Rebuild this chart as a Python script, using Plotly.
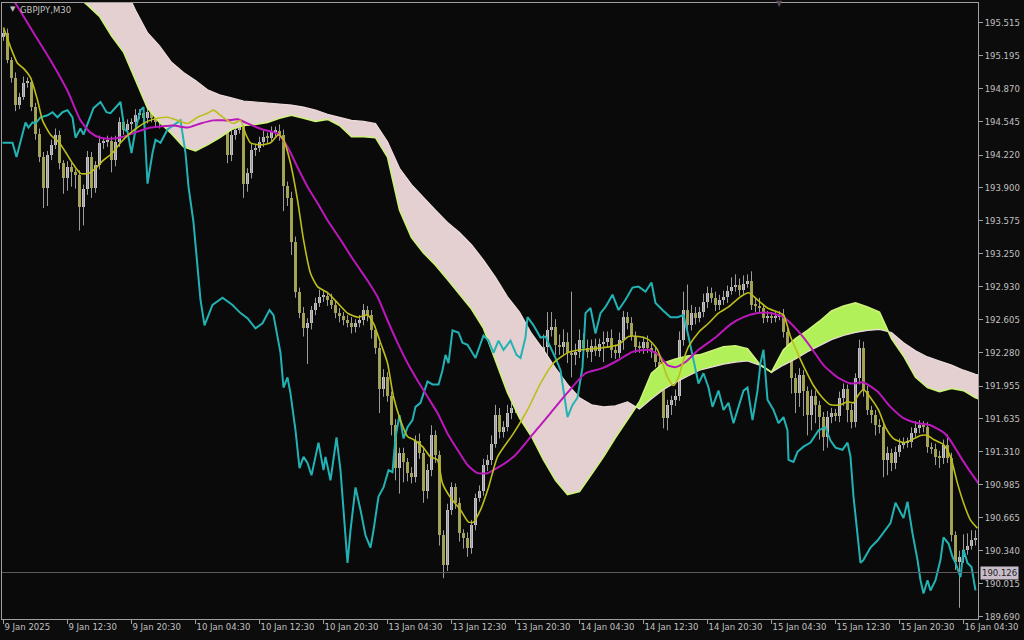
import numpy as np
import plotly.graph_objects as go

# ---------------- DATA ----------------
first_open = 195.38
close = [
    195.42, 195.15, 194.98, 194.71, 194.79, 194.93, 194.94, 194.69, 194.43, 194.20,
    193.90, 194.22, 194.32, 194.42, 194.14, 193.99, 194.10, 194.05, 194.02, 193.71,
    193.89, 194.20, 193.90, 194.12, 194.34, 194.35, 194.36, 194.17, 194.35, 194.54,
    194.47, 194.52, 194.54, 194.61, 194.63, 194.58, 194.64, 194.58, 194.54, 194.61,
    194.66, 194.58, 194.51, 194.56, 194.62, 194.68, 194.64, 194.70, 194.66, 194.72,
    194.68, 194.64, 194.58, 194.54, 194.50, 194.47, 194.22, 194.42, 194.47, 194.50,
    193.94, 194.04, 194.27, 194.29, 194.35, 194.40, 194.39, 194.45, 194.46, 194.42,
    193.92, 193.80, 193.37, 192.88, 192.67, 192.52, 192.57, 192.70, 192.77, 192.83,
    192.84, 192.80, 192.75, 192.67, 192.64, 192.60, 192.57, 192.53, 192.57, 192.60,
    192.70, 192.65, 192.50, 192.33, 191.93, 192.04, 191.86, 191.57, 191.15, 191.30,
    191.21, 191.10, 191.06, 191.42, 191.30, 190.93, 191.13, 191.47, 191.28, 190.49,
    190.20, 190.74, 190.96, 190.81, 190.51, 190.46, 190.37, 190.59, 190.86, 190.93,
    191.18, 191.23, 191.39, 191.67, 191.50, 191.55, 191.69, 191.74, 191.82, 191.89,
    191.96, 191.91, 192.03, 192.16, 192.23, 192.34, 192.50, 192.53, 192.36, 192.34,
    192.39, 192.28, 192.26, 192.29, 192.41, 192.33, 192.29, 192.35, 192.30, 192.37,
    192.39, 192.43, 192.31, 192.28, 192.41, 192.63, 192.57, 192.45, 192.34, 192.33,
    192.39, 192.33, 192.29, 192.19, 192.11, 191.64, 191.77, 191.82, 191.86, 192.41,
    192.70, 192.55, 192.67, 192.62, 192.68, 192.78, 192.87, 192.82, 192.75, 192.80,
    192.83, 192.89, 192.93, 192.95, 192.90, 192.96, 192.98, 192.75, 192.74, 192.72,
    192.62, 192.64, 192.63, 192.64, 192.65, 192.48, 192.33, 192.03, 191.89, 192.06,
    191.91, 191.67, 191.86, 191.77, 191.65, 191.45, 191.65, 191.69, 191.66, 191.84,
    191.93, 191.72, 191.60, 192.03, 192.33, 191.91, 191.72, 191.67, 191.57, 191.55,
    191.23, 191.30, 191.20, 191.31, 191.38, 191.40, 191.41, 191.49, 191.54, 191.57,
    191.55, 191.36, 191.34, 191.26, 191.25, 191.38, 191.25, 190.49, 190.23, 190.28,
    190.35, 190.39, 190.44, 190.46,
]
upper_wick_pips = [
    3, 4, 3, 5, 4, 6, 4, 3, 4, 5,   5, 4, 5, 6, 4, 3, 6, 4, 3, 5,
    4, 6, 5, 4, 7, 4, 5, 4, 6, 5,   4, 5, 4, 6, 4, 5, 6, 4, 5, 4,
    5, 4, 6, 4, 5, 6, 4, 5, 4, 5,   4, 5, 4, 6, 5, 4, 5, 6, 4, 5,
    4, 5, 6, 4, 5, 6, 4, 5, 4, 6,   5, 4, 6, 5, 4, 6, 5, 4, 5, 7,
    5, 4, 6, 4, 5, 4, 5, 6, 4, 5,   6, 4, 5, 4, 5, 8, 5, 4, 6, 5,
    5, 4, 6, 5, 7, 4, 6, 10, 5, 4,  5, 6, 5, 4, 5, 4, 6, 5, 4, 5,
    6, 5, 8, 10, 7, 6, 8, 5, 6, 5,  5, 6, 5, 6, 5, 12, 18, 15, 8, 10,
    12, 9, 60, 8, 10, 6, 8, 6, 7, 5, 10, 6, 8, 5, 7, 6, 5, 6, 4, 5,
    5, 6, 4, 5, 6, 5, 5, 4, 6, 8,   18, 25, 8, 6, 5, 8, 6, 5, 6, 5,
    6, 5, 9, 10, 6, 8, 7, 10, 6, 8, 4, 5, 4, 5, 4, 6, 5, 6, 5, 7,
    5, 4, 6, 5, 4, 5, 6, 5, 4, 6,   5, 4, 6, 5, 8, 6, 5, 4, 5, 6,
    5, 6, 4, 5, 6, 5, 4, 6, 7, 5,   4, 5, 4, 5, 6, 5, 10, 5, 4, 6,
    15, 12, 10, 8,
]
lower_wick_pips = [
    4, 3, 5, 6, 4, 3, 5, 4, 6, 5,   20, 18, 5, 4, 6, 15, 12, 14, 13, 23,
    18, 6, 10, 5, 4, 6, 5, 12, 6, 5, 5, 4, 6, 5, 4, 6, 5, 4, 5, 6,
    5, 4, 6, 5, 4, 5, 6, 4, 5, 4,   5, 6, 4, 5, 6, 5, 8, 6, 5, 4,
    14, 8, 5, 6, 4, 5, 6, 4, 5, 6,  25, 8, 13, 6, 5, 8, 35, 6, 5, 4,
    5, 6, 4, 5, 6, 5, 4, 6, 5, 4,   5, 6, 8, 6, 24, 8, 6, 10, 12, 25,
    20, 8, 6, 5, 6, 12, 8, 6, 8, 10, 13, 6, 5, 6, 8, 10, 9, 6, 5, 4,
    5, 6, 5, 4, 6, 5, 4, 6, 5, 6,   5, 6, 5, 6, 5, 6, 8, 6, 10, 8,
    8, 10, 22, 10, 6, 8, 6, 10, 5, 6, 18, 6, 8, 6, 5, 10, 6, 5, 6, 5,
    6, 5, 6, 5, 6, 10, 12, 10, 6, 5, 6, 8, 5, 6, 4, 5, 6, 5, 6, 5,
    5, 6, 4, 5, 6, 5, 4, 5, 6, 5,   5, 4, 6, 5, 4, 5, 6, 15, 20, 14,
    25, 20, 15, 18, 22, 13, 10, 6, 5, 6, 8, 12, 6, 5, 6, 6, 5, 8, 10, 6,
    17, 15, 8, 6, 5, 4, 5, 6, 4, 5, 5, 6, 5, 8, 10, 6, 5, 6, 8, 45,
    6, 5, 4, 5,
]

# fast moving average (olive-yellow)
fast_ma_bar = [0, 1.75, 3.5, 5, 6.75, 8.5, 9.75, 11.75, 13.75, 15.5,
               17.25, 19.25, 21.25, 23, 25, 27.25, 29.25, 31.25, 33.5, 36,
               38.5, 41, 43.5, 46, 48.5, 51, 52.5, 54.25, 56, 57.5,
               59.25, 60.5, 61.75, 64.25, 66.75, 68.75, 70, 71.75, 73.5, 75,
               76.75, 78.5, 81, 83.5, 86, 88.5, 91, 92.5, 94.25, 96,
               97.5, 99.25, 101, 102.5, 104.75, 106.75, 108.5, 109.75, 111.75, 114.25,
               116.25, 117.5, 119.25, 121.25, 123.5, 127.5, 131, 134.25, 137.5, 141,
               144.25, 149.75, 153.75, 156.25, 158.75, 161.25, 163.5, 164.75, 166, 167.5,
               168.75, 170, 171.25, 173.75, 176.25, 178.75, 181.25, 184.25, 186.25, 188.5,
               191, 193.5, 195, 196.75, 198.5, 200.5, 202.5, 204.75, 206.75, 209.25,
               211, 212.5, 213.75, 215, 216.75, 218.75, 220.5, 222.5, 225, 227.25,
               229.25, 231, 232.5, 235, 236.75, 238.5, 240, 241.75, 243.5]
fast_ma = [195.47, 195.28, 195.12, 195.07, 194.98, 194.76, 194.56, 194.42, 194.35, 194.25,
           194.14, 194.04, 194.04, 194.09, 194.17, 194.24, 194.34, 194.42, 194.49, 194.55,
           194.58, 194.59, 194.56, 194.53, 194.59, 194.63, 194.66, 194.61, 194.56, 194.53,
           194.56, 194.43, 194.34, 194.32, 194.34, 194.42, 194.37, 194.14, 193.78, 193.39,
           193.06, 192.93, 192.87, 192.77, 192.67, 192.63, 192.65, 192.57, 192.38, 192.18,
           191.85, 191.62, 191.46, 191.43, 191.36, 191.26, 191.23, 191.00, 190.86, 190.74,
           190.62, 190.62, 190.74, 190.96, 191.26, 191.49, 191.72, 191.98, 192.18, 192.28,
           192.31, 192.33, 192.36, 192.44, 192.44, 192.41, 192.31, 192.18, 192.04, 191.96,
           192.04, 192.21, 192.34, 192.48, 192.57, 192.67, 192.73, 192.83, 192.87, 192.80,
           192.72, 192.68, 192.65, 192.44, 192.28, 192.11, 191.96, 191.84, 191.77, 191.77,
           191.80, 191.79, 191.87, 191.92, 191.84, 191.72, 191.55, 191.44, 191.40, 191.43,
           191.47, 191.47, 191.43, 191.38, 191.26, 191.00, 190.81, 190.64, 190.56]

# slow moving average (magenta)
slow_ma_bar = [0, 2.5, 7.5, 11.75, 16, 19.25, 21.75, 24.25, 26.75, 30,
               33.5, 36.75, 39.25, 42.5, 46, 49.25, 52.5, 56, 58.5, 61,
               64.75, 68.5, 71, 73.5, 76, 78.5, 81, 84.25, 87.5, 91,
               93.5, 96, 98.5, 101, 103.5, 106, 108.5, 111, 113.5, 116,
               118.5, 121, 122.5, 127.5, 132.5, 136.75, 141, 145.5, 149.75, 153.75,
               157.25, 161.25, 163.75, 166, 168, 170.5, 173.75, 178, 181.75, 185,
               188.5, 191.75, 195, 198.5, 201.75, 205, 208.5, 211.75, 215, 218.5,
               221.75, 225, 228.5, 231.75, 235, 236.75, 239.25, 241.75, 243.75]
slow_ma = [195.90, 195.74, 195.42, 195.15, 194.85, 194.56, 194.44, 194.39, 194.38, 194.40,
           194.45, 194.49, 194.50, 194.51, 194.49, 194.53, 194.56, 194.56, 194.57, 194.53,
           194.47, 194.43, 194.30, 194.10, 193.91, 193.75, 193.58, 193.39, 193.19, 192.99,
           192.83, 192.60, 192.38, 192.18, 192.01, 191.85, 191.69, 191.49, 191.33, 191.18,
           191.10, 191.10, 191.13, 191.26, 191.49, 191.69, 191.89, 192.08, 192.13, 192.21,
           192.29, 192.31, 192.26, 192.16, 192.14, 192.19, 192.31, 192.43, 192.56, 192.63,
           192.67, 192.67, 192.63, 192.50, 192.34, 192.16, 192.04, 191.98, 191.99, 191.90,
           191.75, 191.64, 191.59, 191.57, 191.50, 191.42, 191.26, 191.11, 191.00]

# cyan line
cyan_bar = [-0.25, 2.25, 3.25, 4.75, 5.5, 6.25, 7.25, 8, 9.25, 11,
            12.25, 13.5, 14.75, 16, 17.25, 18, 19.25, 20, 21.25, 22.5,
            24.25, 25.75, 26.75, 28, 29.25, 30.25, 31, 32, 33, 34.25,
            35, 36, 37.25, 38, 39.25, 41, 44.25, 45.5, 46.25, 47.5,
            48.25, 49.25, 50.25, 52.25, 54.75, 57.25, 59.25, 61, 63, 64.75,
            66.5, 67.5, 69.25, 70, 71, 71.75, 73, 74, 75, 76,
            77, 78.75, 80, 80.5, 81.75, 83.25, 84.25, 86, 86.75, 88,
            89.25, 90.5, 91.75, 92.5, 93.75, 95, 96.25, 97.25, 98, 99,
            100, 101, 102.25, 103, 104.25, 106, 107.25, 108.75, 109.75, 110.5,
            111.25, 112.25, 113.75, 114.75, 116, 118, 120, 121.25, 122.5, 123.75,
            125, 126.75, 128.25, 129.25, 130.5, 131, 132.5, 134.25, 135.5, 136.75,
            138, 139.25, 141, 142.25, 143.5, 144.75, 145.5, 146.75, 148, 149.25,
            150.5, 152.25, 153.75, 155.5, 157.25, 158.75, 160.5, 162, 163, 164.75,
            166.75, 168.5, 170, 171.25, 172.5, 173.75, 175, 176.25, 177.25, 178.75,
            180, 181.25, 182.5, 183.5, 185, 186, 187.25, 188.5, 189.25, 190,
            191, 192.5, 193.75, 195, 196, 196.25, 197.5, 198.5, 200, 201.75,
            203.75, 205.5, 206.75, 208, 209.75, 211, 211.75, 212.5, 213.5, 214.25,
            215, 216.75, 218.5, 220, 221.75, 223, 224.25, 225, 226, 227.25,
            228.5, 229.25, 230, 231, 231.75, 233, 234.25, 235, 236.25, 237.25,
            238, 239.25, 240, 241, 242, 243]
cyan_line = [194.34, 194.34, 194.20, 194.44, 194.54, 194.49, 194.54, 194.53, 194.59, 194.61,
             194.64, 194.59, 194.64, 194.66, 194.59, 194.39, 194.48, 194.42, 194.56, 194.68,
             194.74, 194.64, 194.63, 194.69, 194.74, 194.47, 194.45, 194.24, 194.47, 194.66,
             194.69, 193.94, 194.24, 194.37, 194.34, 194.47, 194.56, 194.24, 193.91, 193.56,
             193.21, 192.80, 192.55, 192.75, 192.82, 192.75, 192.67, 192.62, 192.52, 192.57,
             192.70, 192.65, 192.28, 191.94, 192.04, 191.88, 191.52, 191.15, 191.26, 191.20,
             191.08, 191.40, 191.13, 191.26, 191.03, 191.45, 191.13, 190.22, 190.54, 190.96,
             190.74, 190.49, 190.37, 190.54, 190.87, 190.96, 191.13, 191.11, 191.45, 191.67,
             191.44, 191.55, 191.62, 191.75, 191.79, 192.00, 191.97, 191.97, 192.11, 192.26,
             192.18, 192.50, 192.48, 192.38, 192.36, 192.23, 192.45, 192.40, 192.28, 192.40,
             192.31, 192.40, 192.26, 192.23, 192.43, 192.63, 192.55, 192.43, 192.44, 192.34,
             192.23, 192.11, 191.65, 191.77, 191.84, 192.14, 192.67, 192.72, 192.47, 192.67,
             192.73, 192.85, 192.70, 192.80, 192.92, 192.93, 192.88, 192.97, 192.77, 192.70,
             192.63, 192.63, 192.65, 192.44, 192.21, 191.98, 192.08, 191.94, 191.75, 191.91,
             191.72, 191.79, 191.59, 191.72, 191.91, 191.94, 191.62, 191.91, 192.18, 192.31,
             191.82, 191.72, 191.59, 191.65, 191.52, 191.23, 191.21, 191.31, 191.36, 191.40,
             191.52, 191.55, 191.42, 191.35, 191.33, 191.40, 191.26, 190.87, 190.47, 190.22,
             190.25, 190.37, 190.44, 190.52, 190.61, 190.81, 190.71, 190.66, 190.82, 190.51,
             190.25, 190.05, 189.92, 190.05, 189.95, 190.05, 190.25, 190.47, 190.41, 190.28,
             190.22, 190.08, 190.35, 190.22, 190.18, 189.95]

# Ichimoku cloud (already shifted forward), sampled every 3 bars
cloud_bar = list(range(18, 247, 3))
senkou_a = [195.79, 195.69, 195.58, 195.39, 195.23, 194.96, 194.68, 194.54, 194.43, 194.30,
            194.26, 194.32, 194.39, 194.47, 194.51, 194.52, 194.54, 194.58, 194.61, 194.58,
            194.55, 194.57, 194.51, 194.40, 194.40, 194.39, 194.20, 193.68, 193.41, 193.26,
            193.14, 193.00, 192.85, 192.71, 192.52, 192.21, 191.89, 191.64, 191.46, 191.23,
            191.03, 190.89, 190.92, 191.09, 191.26, 191.45, 191.62, 191.80, 192.08, 192.18,
            192.22, 192.25, 192.26, 192.30, 192.34, 192.35, 192.32, 192.17, 192.09, 192.31,
            192.42, 192.50, 192.59, 192.69, 192.74, 192.77, 192.73, 192.68, 192.42, 192.25,
            192.04, 191.94, 191.90, 191.93, 191.91, 191.84, 191.80]
senkou_b = [197.21, 196.82, 196.43, 196.18, 195.89, 195.64, 195.42, 195.29, 195.13, 195.03,
            194.95, 194.86, 194.81, 194.78, 194.75, 194.74, 194.73, 194.72, 194.71, 194.69,
            194.66, 194.62, 194.59, 194.56, 194.55, 194.53, 194.35, 194.09, 193.93, 193.80,
            193.68, 193.56, 193.46, 193.34, 193.19, 193.02, 192.83, 192.68, 192.47, 192.31,
            192.13, 191.97, 191.84, 191.77, 191.75, 191.76, 191.80, 191.73, 191.83, 191.92,
            191.99, 192.05, 192.11, 192.14, 192.17, 192.19, 192.20, 192.16, 192.09, 192.16,
            192.22, 192.29, 192.35, 192.41, 192.45, 192.48, 192.50, 192.51, 192.48, 192.38,
            192.30, 192.24, 192.20, 192.16, 192.11, 192.07, 192.04]

bid_price = 190.126
top_marker_bar = 194

time_tick_bar = [0, 16, 32, 48, 64, 80, 96, 112, 128, 144, 160, 176, 192, 208, 224, 240]
time_tick_label = ["9 Jan 2025", "9 Jan 12:30", "9 Jan 20:30", "10 Jan 04:30", "10 Jan 12:30",
                   "10 Jan 20:30", "13 Jan 04:30", "13 Jan 12:30", "13 Jan 20:30",
                   "14 Jan 04:30", "14 Jan 12:30", "14 Jan 20:30", "15 Jan 04:30",
                   "15 Jan 12:30", "15 Jan 20:30", "16 Jan 04:30"]
price_ticks = [189.690, 190.015, 190.340, 190.665, 190.985, 191.310, 191.635, 191.955,
               192.280, 192.605, 192.930, 193.250, 193.575, 193.900, 194.220, 194.545,
               194.870, 195.195, 195.515]

assert len(close) == len(upper_wick_pips) == len(lower_wick_pips)
assert len(fast_ma_bar) == len(fast_ma)
assert len(slow_ma_bar) == len(slow_ma)
assert len(cyan_bar) == len(cyan_line)
assert len(cloud_bar) == len(senkou_a) == len(senkou_b)

# ---------------- STYLE ----------------
BG = "#0a0a0a"
BULL = "#c4c2c6"
BEAR = "#a8a62a"
WICK = "#9c9c9c"
PINK = "#e4d0d0"
GREEN = "#b2f05a"
SPAN_A_LINE = "#cdf27a"
SPAN_B_LINE = "#efdcdc"
FAST = "#bdbd1c"
SLOW = "#bb18bb"
CYAN = "#22b2b4"
AXIS = "#a0a0a0"
TXT = "#c0c0c0"
FONT = "DejaVu Sans, Liberation Sans, Arial, sans-serif"

# ---------------- BUILD ----------------
n = len(close)
bars = np.arange(n)
closes = np.array(close)
opens = np.concatenate([[first_open], closes[:-1]])
highs = np.maximum(opens, closes) + np.array(upper_wick_pips) * 0.01
lows = np.minimum(opens, closes) - np.array(lower_wick_pips) * 0.01
bull = closes >= opens

fig = go.Figure()

# wicks
wx, wy = [], []
for i in bars:
    wx += [i, i, None]
    wy += [lows[i], highs[i], None]
fig.add_trace(go.Scatter(x=wx, y=wy, mode="lines", line=dict(color=WICK, width=1),
                         hoverinfo="skip"))

# bodies
body_h = np.maximum(np.abs(closes - opens), 0.012)
fig.add_trace(go.Bar(x=bars, y=body_h, base=np.minimum(opens, closes), width=0.75,
                     marker=dict(color=[BULL if b else BEAR for b in bull], line=dict(width=0)),
                     hoverinfo="skip"))

# cloud fill split where the spans cross
cx = np.array(cloud_bar, float)
ca = np.array(senkou_a)
cb = np.array(senkou_b)
d = ca - cb
segs = []
sx, sa, sb = [cx[0]], [ca[0]], [cb[0]]
sg = 1 if d[0] > 0 else -1
for k in range(1, len(cx)):
    s = sg if d[k] == 0 else (1 if d[k] > 0 else -1)
    if s != sg:
        t = d[k - 1] / (d[k - 1] - d[k])
        xc = cx[k - 1] + t * (cx[k] - cx[k - 1])
        yc = ca[k - 1] + t * (ca[k] - ca[k - 1])
        sx.append(xc); sa.append(yc); sb.append(yc)
        segs.append((sx, sa, sb, sg))
        sx, sa, sb, sg = [xc], [yc], [yc], s
    sx.append(cx[k]); sa.append(ca[k]); sb.append(cb[k])
segs.append((sx, sa, sb, sg))
for sx, sa, sb, sg in segs:
    fig.add_trace(go.Scatter(x=list(sx) + list(sx)[::-1], y=list(sa) + list(sb)[::-1],
                             fill="toself", fillcolor=GREEN if sg > 0 else PINK,
                             mode="lines", line=dict(width=0), hoverinfo="skip"))
fig.add_trace(go.Scatter(x=cloud_bar, y=senkou_b, mode="lines",
                         line=dict(color=SPAN_B_LINE, width=1.2), hoverinfo="skip"))
fig.add_trace(go.Scatter(x=cloud_bar, y=senkou_a, mode="lines",
                         line=dict(color=SPAN_A_LINE, width=1.6), hoverinfo="skip"))

# indicator lines
fig.add_trace(go.Scatter(x=cyan_bar, y=cyan_line, mode="lines",
                         line=dict(color=CYAN, width=2), hoverinfo="skip"))
fig.add_trace(go.Scatter(x=slow_ma_bar, y=slow_ma, mode="lines",
                         line=dict(color=SLOW, width=2, shape="spline", smoothing=0.6),
                         hoverinfo="skip"))
fig.add_trace(go.Scatter(x=fast_ma_bar, y=fast_ma, mode="lines",
                         line=dict(color=FAST, width=1.6, shape="spline", smoothing=0.6),
                         hoverinfo="skip"))

# bid line
fig.add_shape(type="line", xref="paper", x0=0, x1=1, yref="y", y0=bid_price, y1=bid_price,
              line=dict(color="#5c585c", width=1))
fig.add_annotation(xref="paper", x=1, xanchor="left", xshift=2, yref="y", y=bid_price,
                   yanchor="middle", text=f"{bid_price:.3f}", showarrow=False,
                   bgcolor="#c9bcc9", font=dict(family=FONT, size=8.5, color="#1c1c1c"),
                   borderpad=1)

# small marker at the top edge
fig.add_annotation(xref="x", x=top_marker_bar, yref="paper", y=1.0, yanchor="middle",
                   text="▼", showarrow=False, font=dict(family=FONT, size=8, color="#5a4a5a"))

# symbol label
fig.add_annotation(xref="paper", yref="paper", x=0.006, y=0.990, xanchor="left", yanchor="middle",
                   text="▼", showarrow=False, font=dict(family=FONT, size=7, color=TXT))
fig.add_annotation(xref="paper", yref="paper", x=0.0164, y=0.9886, xanchor="left",
                   yanchor="middle", text="GBPJPY,M30", showarrow=False,
                   font=dict(family=FONT, size=8.5, color=TXT))

fig.update_layout(
    template="none", width=1024, height=640, autosize=False,
    margin=dict(l=2, r=46, t=3, b=21, pad=0),
    paper_bgcolor="#0c0c0c", plot_bgcolor=BG, showlegend=False, hovermode=False,
    bargap=0, font=dict(family=FONT, size=8.5, color=TXT),
)
fig.update_xaxes(range=[-0.375, 243.625], tickmode="array", tickvals=time_tick_bar,
                 ticktext=time_tick_label, ticks="outside", ticklen=4, tickcolor=AXIS,
                 showline=True, linecolor=AXIS, linewidth=1, mirror=True, showgrid=False,
                 zeroline=False, ticklabelposition="outside right", automargin=False,
                 tickfont=dict(family=FONT, size=8.5, color=TXT))
fig.update_yaxes(side="right", range=[189.670, 195.711], tickmode="array",
                 tickvals=price_ticks, ticktext=[f"{v:.3f}" for v in price_ticks],
                 ticks="outside", ticklen=4, tickcolor=AXIS, showline=True, linecolor=AXIS,
                 linewidth=1, mirror=True, showgrid=False, zeroline=False, automargin=False,
                 tickfont=dict(family=FONT, size=8.5, color=TXT))

fig.write_html("out.html", config={"displayModeBar": False},
               post_script="document.body.style.margin='0px';document.body.style.padding='0px';"
                           "document.body.style.background='#0c0c0c';")
